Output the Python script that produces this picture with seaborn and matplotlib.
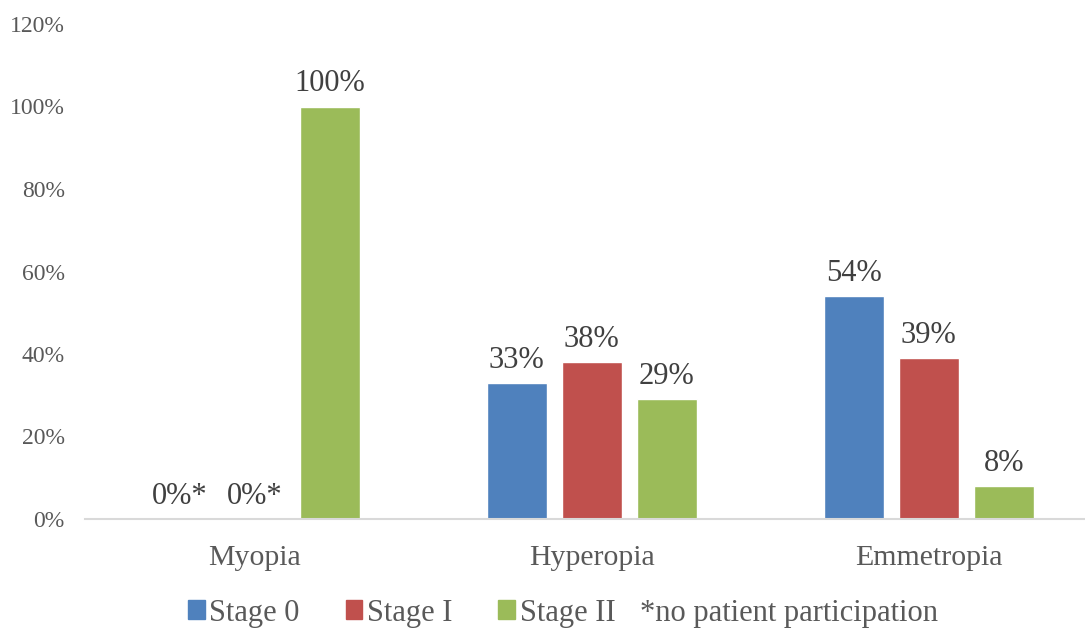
import pandas as pd
import numpy as np
import matplotlib.pyplot as plt
import matplotlib.patches as mpatches
from matplotlib.ticker import PercentFormatter
import seaborn as sns

categories = ["Myopia", "Hyperopia", "Emmetropia"]
stages = ["Stage 0", "Stage I", "Stage II"]
stage0 = [0.0, 0.33, 0.54]
stage1 = [0.0, 0.38, 0.39]
stage2 = [1.00, 0.29, 0.08]
colors = ["#4F81BD", "#C0504D", "#9BBB59"]
note = "*no patient participation"

df = pd.DataFrame({
    "Refraction": categories * 3,
    "Stage": [s for s in stages for _ in categories],
    "Value": stage0 + stage1 + stage2,
})

sns.set_style("white")
plt.rcParams["font.family"] = ["Liberation Serif", "DejaVu Serif"]

fig = plt.figure(figsize=(10.85, 6.29), dpi=100)
ax = fig.add_axes([85 / 1085, 110 / 629, 1000 / 1085, 495 / 629])

sns.barplot(data=df, x="Refraction", y="Value", hue="Stage", order=categories,
            hue_order=stages, palette=colors, width=0.668, gap=0.2,
            saturation=1, ax=ax, legend=False)

for cont in ax.containers:
    vals = [b.get_height() for b in cont]
    labels = ["0%*" if v == 0 else "{:.0f}%".format(v * 100) for v in vals]
    ax.bar_label(cont, labels=labels, padding=6, fontsize=22, color="#404040")

ax.set_ylim(0, 1.2)
ax.set_xlim(-0.503, 2.464)
ax.set_yticks(np.arange(0, 1.21, 0.2))
ax.yaxis.set_major_formatter(PercentFormatter(1.0, decimals=0))
ax.tick_params(axis="y", length=0, pad=14.5, labelsize=17, labelcolor="#595959")
ax.tick_params(axis="x", length=0, pad=19, labelsize=21.5, labelcolor="#595959")
ax.set_xlabel("")
ax.set_ylabel("")
for s in ["left", "top", "right"]:
    ax.spines[s].set_visible(False)
ax.spines["bottom"].set_color("#d9d9d9")
ax.spines["bottom"].set_linewidth(1.5)

handles = [mpatches.Patch(color=c, label=s) for c, s in zip(colors, stages)]
leg = fig.legend(handles=handles, loc="center left", bbox_to_anchor=(188 / 1085, 16 / 629),
                 ncol=3, frameon=False, fontsize=22, handlelength=0.55, handleheight=0.55,
                 handletextpad=0.15, columnspacing=1.5, labelcolor="#595959",
                 borderaxespad=0, borderpad=0)
fig.text(640 / 1085, 16 / 629, note, fontsize=22, color="#595959", ha="left", va="center")

fig.savefig("out.png", dpi=100)
